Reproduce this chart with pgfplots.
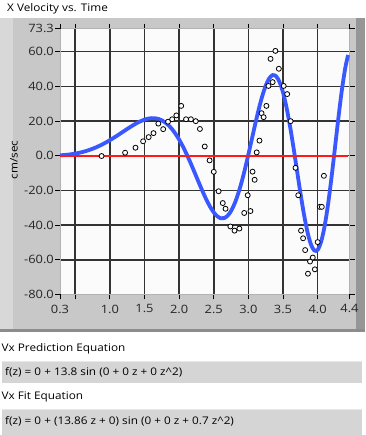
\documentclass[border=0pt]{standalone}
\usepackage{fontspec}
\setmainfont{Open Sans}[FakeStretch=1.12]
\usepackage{pgfplots}
\pgfplotsset{compat=1.18}
\definecolor{panel}{RGB}{200,200,200}
\definecolor{strip}{RGB}{216,216,216}
\definecolor{bevel}{RGB}{150,150,150}
\definecolor{boxfill}{RGB}{213,213,213}
\definecolor{boxedge}{RGB}{232,232,232}
\definecolor{plotbg}{RGB}{251,251,251}
\definecolor{blueC}{RGB}{58,88,255}
\definecolor{redC}{RGB}{255,25,25}
\begin{document}
\begin{tikzpicture}[x=1pt,y=1pt]
\useasboundingbox (0,0) rectangle (365,435);
\fill[white] (0,0) rectangle (365,435);
\node[anchor=base west, inner sep=0pt, font=\fontsize{10.5}{12}\selectfont] at (7,423.5) {X Velocity vs. Time};
% graph frame
\fill[panel] (0,417) rectangle (365,103);
\fill[strip] (0,417) rectangle (13,103);
\fill[bevel] (356,417) rectangle (365,103);
\fill[black!45] (0,103) rectangle (365,106);
\node[rotate=90, inner sep=0pt, font=\fontsize{10.5}{12}\selectfont] at (14,275) {cm/sec};
% equation boxes
\node[anchor=base west, inner sep=0pt, font=\fontsize{10.5}{12}\selectfont] at (1.5,83) {Vx Prediction Equation};
\fill[boxfill] (2,74) rectangle (362,51.5);
\draw[boxedge, line width=1pt] (2,73.5) -- (362,73.5);
\node[anchor=base west, inner sep=0pt, font=\fontsize{10.5}{12}\selectfont] at (5,59) {f(z) = 0 + 13.8 sin (0 + 0 z + 0 z\^{}2)};
\node[anchor=base west, inner sep=0pt, font=\fontsize{10.5}{12}\selectfont] at (1.5,35) {Vx Fit Equation};
\fill[boxfill] (2,26) rectangle (362,0);
\draw[boxedge, line width=1pt] (2,25.5) -- (362,25.5);
\node[anchor=base west, inner sep=0pt, font=\fontsize{10.5}{12}\selectfont] at (5,10) {f(z) = 0 + (13.86 z + 0) sin (0 + 0 z + 0.7 z\^{}2)};
\begin{axis}[
  at={(60pt,140.5pt)}, anchor=south west,
  scale only axis, width=289.5pt, height=266pt,
  xmin=0.28, xmax=4.46, ymin=-80, ymax=73.3,
  axis background/.style={fill=plotbg},
  axis line style={draw=black!30, line width=0.4pt},
  xtick={0.5,1,1.5,2,2.5,3,3.5,4},
  xticklabels={,1.0,1.5,2.0,2.5,3.0,3.5,4.0},
  extra x ticks={0.28,4.46},
  extra x tick labels={0.3,4.4},
  ytick={-60,-40,-20,0,20,40,60},
  yticklabels={-60.0,-40.0,-20.0,0.0,20.0,40.0,60.0},
  extra y ticks={-80,73.3},
  extra y tick labels={-80.0,73.3},
  extra tick style={grid=none},
  grid=major,
  major grid style={draw=black!80, line width=1.5pt},
  tick align=outside,
  major tick length=5pt,
  tick style={draw=black, line width=0.8pt},
  ticklabel style={font=\fontsize{11.5}{13}\selectfont, text=black!85},
  yticklabel style={inner sep=1pt},
  xticklabel style={inner sep=1pt, yshift=-4pt},
  /pgf/number format/assume math mode=true,
  clip=true,
]
\addplot[blueC, line width=3.8pt, smooth] coordinates {
(0.28,0.213) (0.30,0.262) (0.35,0.416) (0.40,0.620) (0.45,0.881) (0.50,1.207)
(0.55,1.602) (0.60,2.074) (0.65,2.626) (0.70,3.263) (0.75,3.988) (0.80,4.803)
(0.85,5.708) (0.90,6.701) (0.95,7.776) (1.00,8.929) (1.05,10.151) (1.10,11.421)
(1.15,12.736) (1.20,14.073) (1.25,15.394) (1.30,16.686) (1.35,17.903) (1.40,19.023)
(1.45,19.998) (1.50,20.790) (1.55,21.351) (1.60,21.636) (1.65,21.598) (1.70,21.194)
(1.75,20.382) (1.80,19.124) (1.85,17.396) (1.90,15.195) (1.95,12.477) (2.00,9.286)
(2.05,5.640) (2.10,1.588) (2.15,-2.802) (2.20,-7.438) (2.25,-12.206) (2.30,-16.970)
(2.35,-21.578) (2.40,-25.850) (2.45,-29.618) (2.50,-32.690) (2.55,-34.888) (2.60,-36.029)
(2.65,-35.972) (2.70,-34.603) (2.75,-31.853) (2.80,-27.709) (2.85,-22.219) (2.90,-15.511)
(2.95,-7.780) (3.00,0.699) (3.05,9.578) (3.10,18.448) (3.15,26.863) (3.20,34.312)
(3.25,40.353) (3.30,44.524) (3.35,46.431) (3.40,45.796) (3.45,42.462) (3.50,36.437)
(3.55,27.919) (3.60,17.240) (3.65,5.002) (3.70,-8.080) (3.75,-21.144) (3.80,-33.253)
(3.85,-43.449) (3.90,-50.805) (3.95,-54.598) (4.00,-54.286) (4.05,-49.629) (4.10,-40.743)
(4.15,-28.111) (4.20,-12.611) (4.25,4.553) (4.30,21.919) (4.35,37.886) (4.40,50.830)
(4.44,58.05)
};
\addplot[redC, line width=2pt] coordinates {(0.28,0) (4.44,0)};
\addplot[only marks, mark=*, mark size=2.5pt, mark options={draw=black, fill=white, line width=0.8pt}] coordinates {
(0.88,-0.2) (1.22,1.7) (1.37,4.6) (1.48,8.3) (1.56,10.7) (1.63,13.0) (1.70,18.5)
(1.77,15.3) (1.84,19.6) (1.90,21.0) (1.96,23.2) (2.03,28.7) (2.10,21.0) (2.17,21.0)
(2.24,19.9) (2.30,15.4) (2.37,5.3) (2.44,-2.7) (2.50,-9.3) (2.57,-20.5) (2.63,-27.3)
(2.67,-30.6) (2.74,-40.8) (2.80,-43.2) (2.87,-42.0) (2.94,-33.0) (2.99,-22.8) (3.03,-31.9)
(3.06,-9.2) (3.09,-13.9) (3.12,1.9) (3.16,8.7) (3.19,24.5) (3.22,22.2) (3.26,28.7)
(3.29,40.2) (3.32,55.8) (3.35,42.4) (3.39,60.4) (3.44,50.1) (3.51,40.2) (3.56,35.5)
(3.61,19.9) (3.68,-7.0) (3.72,-22.8) (3.76,-43.2) (3.79,-47.6) (3.82,-54.4) (3.86,-68.0)
(3.89,-61.0) (3.93,-58.7) (3.96,-65.5) (4.00,-49.8) (4.03,-29.5) (4.06,-29.5) (4.09,-11.6)
};
\end{axis}
\end{tikzpicture}
\end{document}
